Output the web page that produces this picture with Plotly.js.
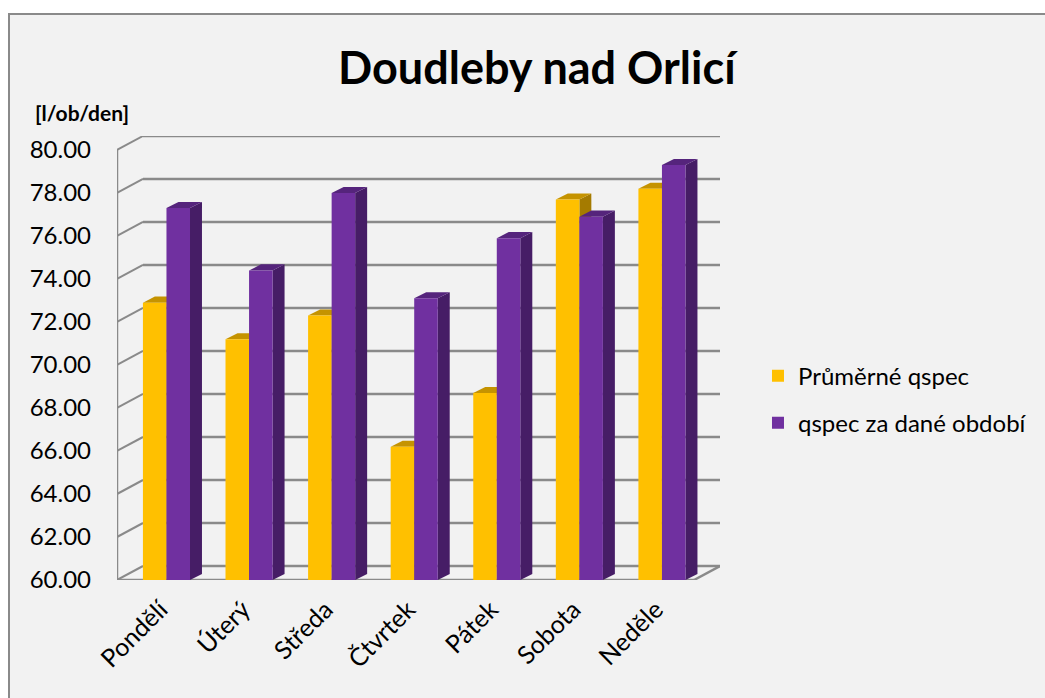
<!DOCTYPE html>
<html>
<head>
<meta charset="utf-8">
<script src="https://cdn.plot.ly/plotly-3.0.1.min.js"></script>
<style>
html,body{margin:0;padding:0;background:#ffffff;overflow:hidden;width:1045px;height:698px;}
#wrap{position:absolute;left:8px;top:13px;width:1037px;height:685px;border-left:2px solid #8a8a8a;border-top:2px solid #8a8a8a;background:#f2f2f2;}
#chart{width:1035px;height:683px;}
</style>
</head>
<body>
<div id="wrap"><div id="chart"></div></div>
<script>
// ---- data ----
var days = ['Pondělí','Úterý','Středa','Čtvrtek','Pátek','Sobota','Neděle'];
var prumerneQspec = [72.9, 71.2, 72.3, 66.2, 68.7, 77.7, 78.2];
var qspecObdobi = [77.3, 74.4, 78.0, 73.1, 75.9, 76.9, 79.3];
var yTicks = [60,62,64,66,68,70,72,74,76,78,80];
var seriesNames = ['Průměrné qspec','qspec za dané období'];

// ---- style ----
var FONT = 'Lato, "Open Sans", sans-serif';
var colFront = ['#ffc000','#7030a0'];
var colTop = ['#c59300','#55247c'];
var colSide = ['#a57b00','#461d66'];
var gridCol = '#8a8a8a';

var xIdx = days.map(function(d,i){return i;});
var xr0 = -0.599, xr1 = 6.703;
var BASE = 60;
// 3D offsets (in axis units)
var wallDx = 0.315, wallDy = 0.651;   // back wall
var barDx = 0.145, barDy = 0.28;      // bar depth
var halfW = 0.285;                    // width of one bar

var shapes = [];
// back wall gridlines + left wall diagonals
yTicks.forEach(function(v){
  shapes.push({type:'line', xref:'x', yref:'y', x0:xr0+wallDx, x1:xr1, y0:v+wallDy, y1:v+wallDy,
    line:{color:gridCol, width:2.5}, layer:'below'});
  shapes.push({type:'line', xref:'x', yref:'y', x0:xr0, x1:xr0+wallDx, y0:v, y1:v+wallDy,
    line:{color:gridCol, width:2}, layer:'below'});
});
// front vertical axis
shapes.push({type:'line', xref:'x', yref:'y', x0:xr0, x1:xr0, y0:yTicks[0], y1:yTicks[yTicks.length-1],
  line:{color:gridCol, width:2.5}, layer:'below'});
// floor front edge and right edge
shapes.push({type:'line', xref:'x', yref:'y', x0:xr0, x1:xr1-wallDx, y0:BASE, y1:BASE,
  line:{color:gridCol, width:2.5}, layer:'below'});
shapes.push({type:'line', xref:'x', yref:'y', x0:xr1-wallDx, x1:xr1, y0:BASE, y1:BASE+wallDy,
  line:{color:gridCol, width:2.5}, layer:'below'});

// 3D faces of bars
function path(pts){
  return 'M' + pts.map(function(p){return p[0]+','+p[1];}).join('L') + 'Z';
}
[prumerneQspec, qspecObdobi].forEach(function(vals, s){
  vals.forEach(function(v, i){
    var x0 = i - halfW + s*halfW;
    var x1 = x0 + halfW;
    // side face
    shapes.push({type:'path', xref:'x', yref:'y', layer:'below',
      path: path([[x1,BASE],[x1+barDx,BASE+barDy],[x1+barDx,v+barDy],[x1,v]]),
      fillcolor: colSide[s], line:{width:0}});
    // top face
    shapes.push({type:'path', xref:'x', yref:'y', layer:'below',
      path: path([[x0,v],[x0+barDx,v+barDy],[x1+barDx,v+barDy],[x1,v]]),
      fillcolor: colTop[s], line:{width:0}});
  });
});

var traces = [prumerneQspec, qspecObdobi].map(function(vals, s){
  return {
    type:'bar', x:xIdx, y:vals.map(function(v){return v-BASE;}), base:BASE,
    name: seriesNames[s], legendgroup:'g'+s,
    marker:{color:colFront[s], line:{width:0}},
    hoverinfo:'skip'
  };
});

var layout = {
  width:1035, height:683,
  paper_bgcolor:'#f2f2f2', plot_bgcolor:'rgba(0,0,0,0)',
  margin:{l:107, r:325, t:121, b:118},
  font:{family:FONT, color:'#000000', size:24},
  title:{text:'<b>Doudleby nad Orlicí</b>', font:{family:FONT, size:45, color:'#000000'},
    x:0.509, xref:'container', xanchor:'center', y:0.922, yref:'container', yanchor:'middle'},
  barmode:'group', bargap:0.43, bargroupgap:0,
  xaxis:{range:[xr0, xr1], tickmode:'array', tickvals:xIdx, ticktext:days, tickangle:-45,
    showgrid:false, zeroline:false, showline:false, ticks:'', tickfont:{size:25, family:FONT},
    ticklabelstandoff:9, ticklabelshift:-6},
  yaxis:{range:[60, 80.65], tickmode:'array', tickvals:yTicks,
    ticktext:yTicks.map(function(v){return v.toFixed(2);}),
    showgrid:false, zeroline:false, showline:false, ticks:'', tickfont:{size:24, family:FONT},
    ticklabelstandoff:25},
  showlegend:true,
  legend:{x:1.063, xanchor:'left', y:0.51, yanchor:'top', tracegroupgap:13,
    font:{size:24, family:FONT}, bgcolor:'rgba(0,0,0,0)', traceorder:'grouped'},
  annotations:[{text:'<b>[l/ob/den]</b>', xref:'paper', yref:'paper', x:-0.058, y:1.054,
    xanchor:'center', yanchor:'middle', showarrow:false, font:{size:21, family:FONT}}],
  shapes:shapes
};

Plotly.newPlot('chart', traces, layout, {displayModeBar:false, staticPlot:true});
</script>
</body>
</html>
